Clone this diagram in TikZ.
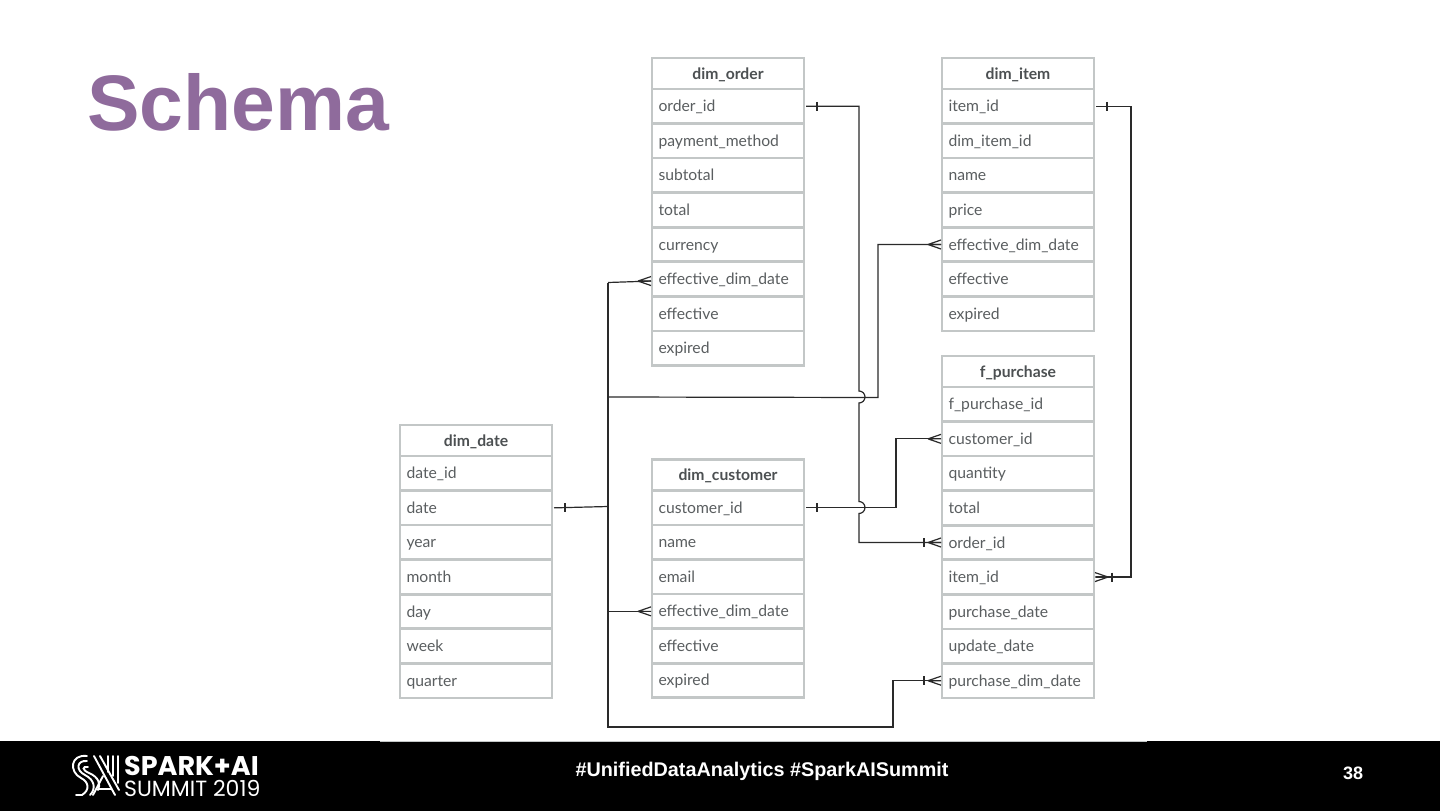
\documentclass[tikz,border=0pt]{standalone}
\usepackage{fontspec}
\setmainfont{Liberation Sans}
\newfontfamily\cellfont{Lato}
\newfontfamily\logofont{Poppins}
\definecolor{cellline}{HTML}{C3C7C7}
\definecolor{celltext}{HTML}{5A5E60}
\definecolor{titlepurple}{HTML}{8F6B9C}
\definecolor{connline}{HTML}{2A2A2A}
\tikzset{
  x=1pt,y=-1pt,
  cell/.style={draw=cellline,line width=2.7pt,fill=white,minimum width=152pt,minimum height=34.6pt,anchor=north west,inner sep=0pt,outer sep=0pt},
  rowcell/.style={cell,font=\cellfont\fontsize{15.7}{18}\selectfont,text=celltext,text width=139pt,align=left,text height=12.5pt,text depth=1.5pt},
  headcell/.style={cell,minimum height=31pt,font=\cellfont\bfseries\fontsize{15.7}{18}\selectfont,text=celltext!85!black,text height=12.5pt,text depth=1.5pt},
  conn/.style={draw=connline,line width=1.2pt,line join=miter},
  crowfoot/.pic={\draw[conn] (-13,0) -- (0,-4.5) (-13,0) -- (0,0) (-13,0) -- (0,4.5);},
  tickmark/.pic={\draw[conn] (0,-4.5) -- (0,4.5);},
  logoline/.style={draw=white,line width=1.9pt,line cap=round},
}
% \dbtable{name}{x}{y of top}{title}{rows}
\newcommand{\dbtable}[5]{%
  \node[headcell] (#1-0) at (#2,#3) {#4};
  \foreach \rowtext [count=\rowno] in {#5} {
    \pgfmathsetmacro{\rowy}{#3+31+(\rowno-1)*34.55}
    \node[rowcell] (#1-\rowno) at (#2,\rowy) {\rowtext};
  }%
}
\begin{document}
\begin{tikzpicture}
\useasboundingbox (0,0) rectangle (1440,811);
\fill[white] (0,0) rectangle (1440,811);
\fill[black] (0,741) rectangle (1440,811);
\draw[cellline,line width=1pt] (380,741) -- (1147,741);

\node[anchor=base west,inner sep=0pt,font=\bfseries\fontsize{78.7}{80}\selectfont,text=titlepurple] (title) at (87,130) {Schema};

\dbtable{order}{652}{58}{dim\_order}{order\_id,payment\_method,subtotal,total,currency,effective\_dim\_date,effective,expired}
\dbtable{item}{942}{58}{dim\_item}{item\_id,dim\_item\_id,name,price,effective\_dim\_date,effective,expired}
\dbtable{purchase}{942}{356}{f\_purchase}{f\_purchase\_id,customer\_id,quantity,total,order\_id,item\_id,purchase\_date,update\_date,purchase\_dim\_date}
\dbtable{date}{400}{425}{dim\_date}{date\_id,date,year,month,day,week,quarter}
\dbtable{customer}{652}{459.4}{dim\_customer}{customer\_id,name,email,effective\_dim\_date,effective,expired}

% trunk from dim_date
\coordinate (trunktop) at (608,282.5);
\coordinate (trunkmid) at (608,506.5);
\coordinate (trunkbot) at (608,727);
\coordinate (trunkhop) at (608,397);
\coordinate (ordertip) at ([xshift=-1pt,yshift=-2pt]order-6.west);
\draw[conn] ([xshift=2pt]date-2.east) -- (trunkmid);
\draw[conn] (trunktop) -- (trunkbot) -| ([xshift=-49pt]purchase-9.west) -- ([xshift=-1pt]purchase-9.west);
\draw[conn] (trunktop) -- (ordertip);
\draw[conn] (trunkhop) -- (878,397.5) |- ([xshift=-1pt]item-5.west);
\draw[conn] (trunkmid |- customer-4.west) -- ([xshift=-1pt]customer-4.west);
% order_id to f_purchase.order_id with hops
\draw[conn] ([xshift=2pt]order-1.east) -| (859,391) arc[start angle=-90,end angle=90,radius=6] -- (859,501.5) arc[start angle=-90,end angle=90,radius=6] |- ([xshift=-1pt]purchase-5.west);
% customer
\draw[conn] ([xshift=2pt]customer-1.east) -| ([xshift=-46pt]purchase-2.west) -- ([xshift=-1pt]purchase-2.west);
% item
\draw[conn] ([xshift=2pt]item-1.east) -| (1131,400) |- ([xshift=2pt]purchase-6.east);

% crow's feet
\path (ordertip) pic {crowfoot};
\path ([xshift=-1pt]item-5.west) pic {crowfoot};
\path ([xshift=-1pt]customer-4.west) pic {crowfoot};
\path ([xshift=-1pt]purchase-2.west) pic {crowfoot};
\path ([xshift=-1pt]purchase-5.west) pic {crowfoot};
\path ([xshift=-1pt]purchase-9.west) pic {crowfoot};
\path ([xshift=1pt]purchase-6.east) pic[rotate=180] {crowfoot};
% ticks
\path ([xshift=13pt]order-1.east) pic {tickmark};
\path ([xshift=13pt]item-1.east) pic {tickmark};
\path ([xshift=13pt]date-2.east) pic {tickmark};
\path ([xshift=13pt]customer-1.east) pic {tickmark};
\path ([xshift=-18pt]purchase-5.west) pic {tickmark};
\path ([xshift=-18pt]purchase-9.west) pic {tickmark};
\path ([xshift=18pt]purchase-6.east) pic {tickmark};

% footer
\node[inner sep=0pt,text=white,font=\bfseries\fontsize{19.8}{22}\selectfont] (tags) at (762,771) {\#UnifiedDataAnalytics \#SparkAISummit};
\node[inner sep=0pt,text=white,font=\bfseries\fontsize{18}{20}\selectfont] (pageno) at (1353,773) {38};
\node[anchor=base west,inner sep=0pt,text=white,font=\logofont\bfseries\fontsize{27}{28}\selectfont] (logoa) at (124,775) {SPARK+AI};
\node[anchor=base west,inner sep=0pt,text=white,font=\logofont\fontsize{22}{24}\selectfont] (logob) at (124,796) {SUMMIT 2019};
% logo mark
\draw[logoline] (87,756) .. controls (70,754) and (69,772) .. (81,778) .. controls (89,782) and (90,790) .. (82,795) -- (76,795);
\draw[logoline] (87,761) .. controls (77,760) and (75,770) .. (85,775) .. controls (95,780) and (96,789) .. (90,795);
\draw[logoline] (88,767) .. controls (82,766) and (82,770) .. (89,773) .. controls (99,777) and (101,785) .. (98,790);
\draw[logoline] (94,756) -- (115,795);
\draw[logoline] (100,756) -- (119,790);
\draw[logoline] (108,756) -- (108,772);
\draw[logoline] (113,756) -- (113,776);
\draw[logoline] (118,756) -- (118,783);
\draw[logoline] (103,776) -- (93,795);
\draw[logoline] (99,789) -- (111,789);
\end{tikzpicture}
\end{document}
